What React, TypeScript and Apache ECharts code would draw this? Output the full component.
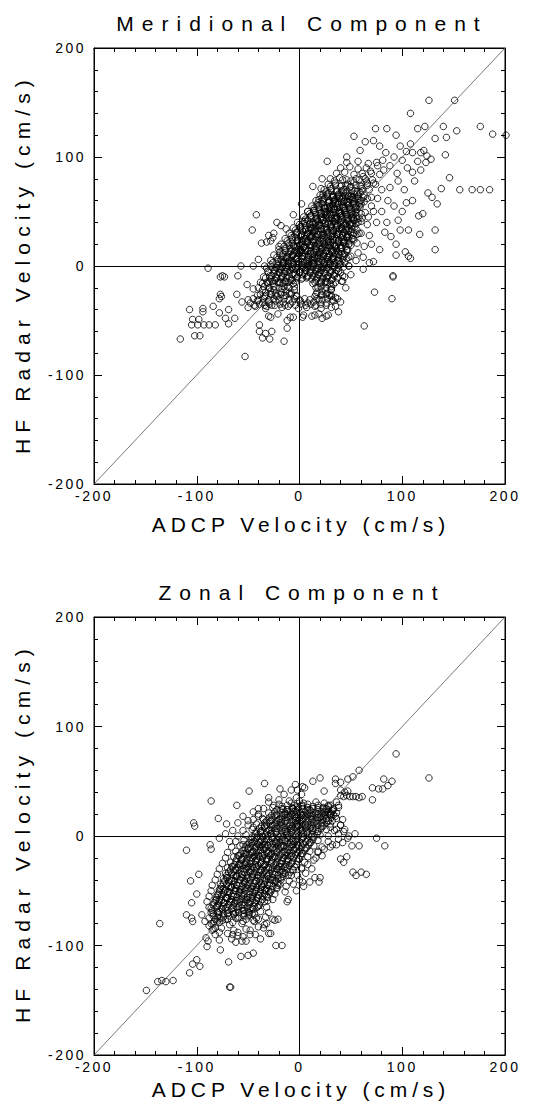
import React, { useEffect, useRef } from "react";
import * as echarts from "echarts";

const axisMin = -200;
const axisMax = 200;
const axisStep = 100;

const titles = ["Meridional Component", "Zonal Component"];
const xName = "ADCP Velocity (cm/s)";
const yName = "HF Radar Velocity (cm/s)";

// Meridional component: [ADCP, HF radar] (cm/s)
const meridionalCore: number[][] = [
  [-30,-46],[-21,-44],[-9,-47],[4,-45],[12,-46],[19,-44],[26,-46],
  [-50,-38],[-43,-37],[-33,-39],[-27,-36],[-17,-38],[-11,-37],[-1,-39],[7,-38],[15,-37],[21,-39],[31,-38],
  [-56,-33],[-48,-34],[-41,-32],[-36,-34],[-30,-33],[-23,-32],[-16,-34],[-7,-33],[1,-32],[8,-34],[14,-33],[19,-31],[26,-34],[33,-32],[40,-33],
  [-41,-27],[-34,-28],[-27,-26],[-22,-28],[-15,-27],[-10,-25],[-3,-28],[15,-28],[22,-26],[29,-27],[35,-29],
  [-45,-21],[-36,-22],[-29,-20],[-25,-22],[-17,-21],[-12,-19],[-5,-22],[18,-20],[25,-22],[31,-21],
  [-38,-15],[-31,-16],[-26,-14],[-19,-16],[-14,-15],[-7,-13],[13,-16],[21,-14],[27,-15],[33,-17],[41,-14],
  [-35,-10],[-29,-9],[-22,-11],[-17,-9],[-10,-10],[-4,-8],[3,-11],[8,-9],[15,-10],[19,-8],[26,-11],[34,-9],[44,-10],
  [-31,-5],[-24,-4],[-19,-6],[-12,-5],[-6,-3],[0,-6],[6,-4],[11,-5],[18,-3],[24,-6],[30,-4],[38,-5],
  [-34,0],[-28,1],[-23,-1],[-16,0],[-11,2],[-4,-1],[2,1],[8,0],[13,2],[21,-1],[26,1],[32,0],[40,2],[48,0],
  [-28,5],[-21,6],[-17,4],[-10,5],[-3,7],[2,4],[9,6],[14,5],[20,7],[27,4],[31,6],[38,5],[46,7],
  [-25,10],[-19,11],[-12,9],[-7,10],[0,12],[5,9],[11,11],[18,10],[23,12],[29,9],[35,11],[42,10],[50,9],
  [-20,15],[-13,16],[-8,14],[-1,15],[4,17],[11,14],[16,16],[22,15],[29,17],[33,14],[40,16],[47,15],
  [-18,20],[-11,21],[-6,19],[1,20],[6,22],[12,19],[19,21],[24,20],[30,22],[36,19],[43,21],[48,20],[56,21],
  [-14,25],[-7,26],[-2,24],[5,25],[10,27],[16,24],[23,26],[28,25],[34,27],[41,24],[46,26],[52,25],
  [-10,30],[-3,31],[2,29],[9,30],[14,32],[20,29],[27,31],[32,30],[38,32],[45,29],[50,31],[58,30],
  [-6,35],[1,36],[6,34],[13,35],[18,37],[24,34],[31,36],[36,35],[43,37],[48,34],[54,36],
  [-2,40],[5,41],[10,39],[16,40],[23,42],[28,39],[34,41],[40,40],[47,42],[52,39],[60,41],
  [4,45],[11,46],[16,44],[22,45],[29,47],[34,44],[40,46],[47,45],[52,47],[58,44],
  [8,50],[14,51],[21,49],[26,50],[33,52],[38,49],[44,51],[51,50],[56,52],[64,49],
  [12,55],[19,56],[24,54],[30,55],[37,57],[42,54],[48,56],[55,55],[60,57],
  [16,60],[23,61],[28,59],[34,60],[41,62],[46,59],[52,61],[59,60],[66,62],
  [20,65],[27,66],[32,64],[38,65],[45,67],[50,64],[56,66],[63,65],[70,63],
  [24,70],[31,71],[36,69],[43,70],[49,72],[54,69],[61,71],[68,70],
  [28,75],[35,76],[41,74],[47,75],[53,77],[59,74],[66,76],[74,75],
  [30,80],[39,81],[46,79],[55,80],[62,82],[71,79],
  [36,85],[44,86],[53,84],[61,85],[69,87],[78,84],
  [40,90],[49,91],[57,89],[65,90],[76,92],
  [46,95],[57,96],[67,94],[81,97],
  [-20,-2],[-13,-1],[-7,-3],[4,-2],[11,-1],[16,-3],[23,-2],
  [-15,3],[-8,2],[-1,4],[6,3],[12,2],[18,4],[24,3],[30,2],
  [-10,8],[-3,7],[3,9],[9,8],[15,7],[21,9],[27,8],[33,7],
  [-5,13],[2,12],[8,14],[14,13],[20,12],[26,14],[32,13],[38,12],
  [-2,18],[4,17],[10,19],[16,18],[22,17],[28,19],[34,18],[40,17],
  [2,23],[8,22],[14,24],[20,23],[26,22],[32,24],[38,23],[44,22],
  [5,28],[12,27],[18,29],[24,28],[30,27],[36,29],[42,28],[48,27],
  [9,33],[15,32],[21,34],[27,33],[33,32],[39,34],[45,33],
  [13,38],[19,37],[25,39],[31,38],[37,37],[43,39],[49,38],
  [17,43],[23,42],[29,44],[35,43],[41,42],[47,44],[53,43],
  [21,48],[27,47],[33,49],[39,48],[45,47],[51,49],
  [25,53],[31,52],[37,54],[43,53],[49,52],[55,54],
  [29,58],[35,57],[41,59],[47,58],[53,57],
  [33,63],[39,62],[45,64],[51,63],[57,62],
];

const meridionalDense: number[][] = [
  [-33,-24],[-28,-23],[-23,-25],[-18,-24],[-13,-23],[-8,-25],[17,-24],[22,-23],[27,-25],
  [-29,-14],[-24,-13],[-19,-15],[-14,-14],[-9,-13],[-4,-15],[16,-13],[21,-15],[26,-14],[31,-13],
  [-27,-9],[-22,-8],[-17,-10],[-12,-9],[-7,-8],[-2,-10],[3,-8],[8,-10],[13,-9],[18,-8],[23,-10],[28,-9],[33,-8],
  [-24,-4],[-19,-3],[-14,-5],[-9,-4],[-4,-3],[1,-5],[6,-4],[11,-3],[16,-5],[21,-4],[26,-3],[31,-5],[36,-4],
  [-21,1],[-16,2],[-11,0],[-6,1],[-1,2],[4,0],[9,1],[14,2],[19,0],[24,1],[29,2],[34,0],[39,1],
  [-18,6],[-13,7],[-8,5],[-3,6],[2,7],[7,5],[12,6],[17,7],[22,5],[27,6],[32,7],[37,5],[42,6],
  [-16,11],[-11,12],[-6,10],[-1,11],[4,12],[9,10],[14,11],[19,12],[24,10],[29,11],[34,12],[39,10],[44,11],
  [-9,16],[-4,17],[1,15],[6,16],[11,17],[16,15],[21,16],[26,17],[31,15],[36,16],[41,17],[46,15],
  [-7,21],[-2,22],[3,20],[8,21],[13,22],[18,20],[23,21],[28,22],[33,20],[38,21],[43,22],[48,20],
  [-4,26],[1,27],[6,25],[11,26],[16,27],[21,25],[26,26],[31,27],[36,25],[41,26],[46,27],[51,25],
  [-2,31],[3,32],[8,30],[13,31],[18,32],[23,30],[28,31],[33,32],[38,30],[43,31],[48,32],[53,30],
  [1,36],[6,37],[11,35],[16,36],[21,37],[26,35],[31,36],[36,37],[41,35],[46,36],[51,37],
  [3,41],[8,42],[13,40],[18,41],[23,42],[28,40],[33,41],[38,42],[43,40],[48,41],[53,42],[57,40],
  [11,46],[16,47],[21,45],[26,46],[31,47],[36,45],[41,46],[46,47],[51,45],[55,46],
  [14,51],[19,52],[24,50],[29,51],[34,52],[39,50],[44,51],[49,52],[54,50],
  [17,56],[22,57],[27,55],[32,56],[37,57],[42,55],[47,56],[52,57],[58,55],
  [19,61],[24,62],[29,60],[34,61],[39,62],[44,60],[49,61],[54,62],[60,60],
  [23,66],[28,67],[33,65],[38,66],[43,67],[48,65],[53,66],[59,67],
];

const meridionalFill: number[][] = [
  [-44,-36],[-39,-35],[-34,-36],[-29,-35],[-24,-36],[-19,-35],[-14,-36],[-9,-35],[-4,-36],[1,-35],[6,-36],[11,-35],[16,-36],[21,-35],[26,-36],
  [-50,-31],[-45,-30],[-40,-31],[-35,-30],[-30,-31],[-25,-30],[-20,-31],[-15,-30],[-10,-31],[-5,-30],[0,-31],[5,-30],[10,-31],[17,-30],[22,-31],[27,-30],[32,-31],[37,-30],
  [-38,-26],[-33,-27],[-28,-26],[-23,-27],[-18,-26],[-13,-27],[-8,-26],[-3,-27],[16,-26],[21,-27],[26,-26],[31,-27],
  [-40,-20],[-35,-19],[-30,-20],[-25,-19],[-20,-20],[-15,-19],[-10,-20],[-5,-19],[16,-20],[21,-19],[26,-20],[31,-19],
  [-36,-16],[-31,-15],[-26,-16],[-21,-15],[-16,-16],[-11,-15],[-6,-16],[15,-15],[20,-16],[25,-15],[30,-16],[35,-15],
  [-33,-11],[-28,-12],[-23,-11],[-18,-12],[-13,-11],[-8,-12],[-3,-11],[2,-12],[7,-11],[12,-12],[17,-11],[22,-12],[27,-11],[32,-12],[37,-11],
  [-30,-6],[-25,-7],[-20,-6],[-15,-7],[-10,-6],[-5,-7],[0,-6],[5,-7],[10,-6],[15,-7],[20,-6],[25,-7],[30,-6],[35,-7],[40,-6],
  [-32,-2],[-27,-1],[-22,-2],[-17,-1],[-12,-2],[-7,-1],[-2,-2],[3,-1],[8,-2],[13,-1],[18,-2],[23,-1],[28,-2],[33,-1],[38,-2],[43,-1],
  [-26,3],[-21,4],[-16,3],[-11,4],[-6,3],[-1,4],[4,3],[9,4],[14,3],[19,4],[24,3],[29,4],[34,3],[39,4],[44,3],
  [-22,8],[-17,9],[-12,8],[-7,9],[-2,8],[3,9],[8,8],[13,9],[18,8],[23,9],[28,8],[33,9],[38,8],[43,9],[48,8],
  [-19,13],[-14,14],[-9,13],[-4,14],[1,13],[6,14],[11,13],[16,14],[21,13],[26,14],[31,13],[36,14],[41,13],[46,14],
  [-15,18],[-10,19],[-5,18],[0,19],[5,18],[10,19],[15,18],[20,19],[25,18],[30,19],[35,18],[40,19],[45,18],[50,19],
  [-12,23],[-7,24],[-2,23],[3,24],[8,23],[13,24],[18,23],[23,24],[28,23],[33,24],[38,23],[43,24],[48,23],[53,24],
  [-8,28],[-3,29],[2,28],[7,29],[12,28],[17,29],[22,28],[27,29],[32,28],[37,29],[42,28],[47,29],[52,28],[56,29],
  [-4,33],[1,34],[6,33],[11,34],[16,33],[21,34],[26,33],[31,34],[36,33],[41,34],[46,33],[51,34],[56,33],
  [0,38],[5,39],[10,38],[15,39],[20,38],[25,39],[30,38],[35,39],[40,38],[45,39],[50,38],[55,39],
  [6,43],[11,44],[16,43],[21,44],[26,43],[31,44],[36,43],[41,44],[46,43],[51,44],[56,43],[61,44],
  [10,48],[15,49],[20,48],[25,49],[30,48],[35,49],[40,48],[45,49],[50,48],[55,49],[60,48],
  [14,53],[19,54],[24,53],[29,54],[34,53],[39,54],[44,53],[49,54],[54,53],[59,54],
  [18,58],[23,59],[28,58],[33,59],[38,58],[43,59],[48,58],[53,59],[58,58],[63,59],
  [22,63],[27,64],[32,63],[37,64],[42,63],[47,64],[52,63],[57,64],[62,63],
  [26,68],[31,69],[36,68],[41,69],[46,68],[51,69],[56,68],[61,69],
  [30,73],[35,74],[40,73],[45,74],[50,73],[55,74],[60,73],[66,74],
  [34,78],[42,79],[50,78],[58,79],[65,78],
];

const meridionalScatter: number[][] = [
  [126,152],[151,152],[108,140],[201,120],[188,121],[176,128],[53,119],[74,126],[85,126],[140,128],
  [132,117],[143,118],[153,124],[115,126],[122,128],[94,120],[72,115],[64,114],[142,102],[121,106],
  [124,101],[118,104],[110,104],[104,105],[27,96],[46,100],[59,106],[146,81],[138,71],[156,70],
  [168,70],[176,70],[185,70],[125,67],[129,63],[134,57],[132,33],[132,15],[117,29],[120,48],
  [116,46],[104,58],[106,33],[98,33],[103,13],[106,9],[108,7],[94,20],[94,10],[89,27],
  [91,-10],[72,4],[62,8],[83,31],[-42,47],[-46,33],[-6,47],[2,57],[8,50],[13,73],
  [21,71],[22,80],[-37,21],[-32,22],[-28,23],[-13,34],[-20,18],[-40,6],[-57,0],[-45,0],
  [-89,-2],[-77,-10],[-75,-9],[-73,-10],[-60,-9],[-51,-17],[-61,-26],[-77,-26],[-76,-28],[-78,-30],
  [-107,-40],[-94,-39],[-94,-42],[-84,-37],[-78,-43],[-69,-40],[-63,-48],[-69,-53],[-72,-48],[-104,-49],
  [-98,-49],[-105,-54],[-99,-54],[-93,-54],[-88,-54],[-82,-54],[-102,-64],[-97,-64],[-116,-67],[-53,-83],
  [-39,-54],[-39,-60],[-36,-66],[-33,-62],[-29,-67],[-27,-60],[-15,-69],[-12,-50],[-12,-57],[-6,-47],
  [3,-47],[-28,-47],[-32,-37],[35,-37],[31,-22],[31,-28],[73,-24],[90,-30],[91,-9],[63,-55],
  [42,-9],[42,-14],[48,0],[68,3],[75,95],[82,88],[88,92],[95,85],[100,97],[105,90],
  [110,86],[96,78],[88,72],[102,70],[112,78],[118,88],[92,100],[84,104],[78,110],[98,110],
  [108,112],[115,96],[123,95],[128,98],[86,60],[92,55],[100,50],[96,42],[110,60],[80,50],
  [75,40],[70,20],[78,15],[85,40],[67,45],[60,30],[68,28],[63,18],[57,12],[55,5],
  [62,-3],[50,-8],[45,-20],[38,-42],[28,-45],[22,-48],[15,-45],[-25,30],[-30,28],[-18,37],
  [-22,40],[-26,26],[70,85],[64,80],[72,76],[80,70],[76,62],[70,55],[66,38],[72,50],
];

// Zonal component: [ADCP, HF radar] (cm/s)
const zonalCore: number[][] = [
  [-30,31],[-20,29],[-8,30],[0,32],[8,29],[16,31],[24,30],[30,28],[36,31],
  [-35,25],[-26,26],[-16,24],[-6,25],[2,27],[10,24],[18,26],[26,25],[32,23],[38,26],
  [-40,20],[-30,21],[-22,19],[-14,20],[-6,22],[2,19],[10,21],[18,20],[25,22],[30,19],[36,21],
  [-45,15],[-36,16],[-28,14],[-20,15],[-12,17],[-4,14],[4,16],[12,15],[20,17],[28,14],[36,16],[42,15],
  [-50,10],[-42,11],[-34,9],[-26,10],[-18,12],[-10,9],[-2,11],[6,10],[14,12],[22,9],[30,11],[40,10],
  [-55,5],[-46,6],[-38,4],[-30,5],[-22,7],[-14,4],[-6,6],[2,5],[10,7],[18,4],[26,6],[34,5],[44,6],
  [-60,0],[-52,1],[-44,-1],[-36,0],[-28,2],[-20,-1],[-12,1],[-4,0],[4,2],[12,-1],[20,1],[28,0],[38,2],[48,0],
  [-62,-5],[-54,-4],[-46,-6],[-38,-5],[-30,-3],[-22,-6],[-14,-4],[-6,-5],[2,-3],[10,-6],[18,-4],[28,-5],[38,-3],
  [-66,-10],[-58,-9],[-50,-11],[-42,-10],[-34,-8],[-26,-11],[-18,-9],[-10,-10],[-2,-8],[6,-11],[14,-9],[22,-10],[32,-8],
  [-70,-15],[-62,-14],[-54,-16],[-46,-15],[-38,-13],[-30,-16],[-22,-14],[-14,-15],[-6,-13],[2,-16],[10,-14],[18,-15],
  [-72,-20],[-64,-19],[-56,-21],[-48,-20],[-40,-18],[-32,-21],[-24,-19],[-16,-20],[-8,-18],[0,-21],[8,-19],[16,-20],
  [-75,-25],[-67,-24],[-59,-26],[-51,-25],[-43,-23],[-35,-26],[-27,-24],[-19,-25],[-11,-23],[-3,-26],[5,-24],
  [-78,-30],[-70,-29],[-62,-31],[-54,-30],[-46,-28],[-38,-31],[-30,-29],[-22,-30],[-14,-28],[-6,-31],[2,-29],
  [-80,-35],[-72,-34],[-64,-36],[-56,-35],[-48,-33],[-40,-36],[-32,-34],[-24,-35],[-16,-33],[-8,-36],
  [-82,-40],[-74,-39],[-66,-41],[-58,-40],[-50,-38],[-42,-41],[-34,-39],[-26,-40],[-18,-38],[-10,-41],
  [-85,-45],[-77,-44],[-69,-46],[-61,-45],[-53,-43],[-45,-46],[-37,-44],[-29,-45],[-21,-43],[-13,-46],
  [-86,-50],[-78,-49],[-70,-51],[-62,-50],[-54,-48],[-46,-51],[-38,-49],[-30,-50],[-22,-48],[-14,-51],
  [-88,-55],[-80,-54],[-72,-56],[-64,-55],[-56,-53],[-48,-56],[-40,-54],[-32,-55],[-24,-53],
  [-90,-60],[-82,-59],[-74,-61],[-66,-60],[-58,-58],[-50,-61],[-42,-59],[-34,-60],[-26,-58],
  [-88,-65],[-80,-64],[-72,-66],[-64,-65],[-56,-63],[-48,-66],[-40,-64],[-32,-65],
  [-86,-70],[-78,-69],[-70,-71],[-62,-70],[-54,-68],[-46,-71],[-38,-69],[-30,-70],
  [-88,-75],[-80,-74],[-72,-76],[-60,-75],[-50,-73],[-40,-76],[-33,-74],
  [-86,-80],[-78,-79],[-68,-81],[-56,-80],[-44,-78],[-34,-81],
  [-84,-85],[-76,-84],[-64,-86],[-52,-85],[-40,-83],
  [-82,-90],[-70,-89],[-60,-91],[-48,-90],
  [-78,-95],[-66,-94],[-56,-96],
  [-55,-8],[-47,-7],[-39,-9],[-31,-8],[-23,-7],[-15,-9],[-7,-8],
  [-60,-18],[-52,-17],[-44,-19],[-36,-18],[-28,-17],[-20,-19],[-12,-18],
  [-66,-28],[-58,-27],[-50,-29],[-42,-28],[-34,-27],[-26,-29],[-18,-28],
  [-70,-38],[-62,-37],[-54,-39],[-46,-38],[-38,-37],[-30,-39],
  [-74,-48],[-66,-47],[-58,-49],[-50,-48],[-42,-47],[-34,-49],
  [-78,-58],[-70,-57],[-62,-59],[-54,-58],[-46,-57],
  [-15,8],[-8,7],[-1,9],[6,8],[13,7],
  [-10,18],[-3,17],[4,19],[11,18],[18,17],[25,19],
  [-3,35],[2,38],[-1,26],[4,30],[-5,18],[0,14],
];

const zonalDense: number[][] = [
  [-17,27],[-12,28],[-7,26],[-2,27],[3,28],[8,26],[13,27],[18,28],[23,26],[28,27],
  [-24,22],[-19,23],[-14,21],[-9,22],[-4,23],[1,21],[6,22],[11,23],[16,21],[21,22],[26,23],[31,21],
  [-29,17],[-24,18],[-19,16],[-14,17],[-9,18],[-4,16],[1,17],[6,18],[11,16],[16,17],[21,18],[26,16],[31,17],
  [-34,12],[-29,13],[-24,11],[-19,12],[-14,13],[-9,11],[-4,12],[1,13],[6,11],[11,12],[16,13],[21,11],[26,12],
  [-39,7],[-34,8],[-29,6],[-24,7],[-19,8],[-14,6],[-9,7],[-4,8],[1,6],[6,7],[11,8],[16,6],[21,7],
  [-43,2],[-38,3],[-33,1],[-28,2],[-23,3],[-18,1],[-13,2],[-8,3],[-3,1],[2,2],[7,3],[12,1],[17,2],
  [-47,-3],[-42,-2],[-37,-4],[-32,-3],[-27,-2],[-22,-4],[-17,-3],[-12,-2],[-7,-4],[-2,-3],[3,-2],[8,-4],[13,-3],
  [-51,-8],[-46,-9],[-41,-7],[-36,-8],[-31,-9],[-26,-7],[-21,-8],[-16,-9],[-11,-7],[-6,-8],[-1,-9],[4,-7],[9,-8],
  [-55,-13],[-50,-12],[-45,-14],[-40,-13],[-35,-12],[-30,-14],[-25,-13],[-20,-12],[-15,-14],[-10,-13],[-5,-12],[0,-14],[5,-13],
  [-59,-18],[-54,-19],[-49,-17],[-44,-18],[-39,-19],[-34,-17],[-29,-18],[-24,-19],[-19,-17],[-14,-18],[-9,-19],[-4,-17],[1,-18],
  [-62,-23],[-57,-22],[-52,-24],[-47,-23],[-42,-22],[-37,-24],[-32,-23],[-27,-22],[-22,-24],[-17,-23],[-12,-22],[-7,-24],[-2,-23],
  [-65,-28],[-60,-29],[-55,-27],[-50,-28],[-45,-29],[-40,-27],[-35,-28],[-30,-29],[-25,-27],[-20,-28],[-15,-29],[-10,-27],[-5,-28],
  [-69,-33],[-64,-32],[-59,-34],[-54,-33],[-49,-32],[-44,-34],[-39,-33],[-34,-32],[-29,-34],[-24,-33],[-19,-32],[-14,-34],[-9,-33],
  [-71,-38],[-66,-39],[-61,-37],[-56,-38],[-51,-39],[-46,-37],[-41,-38],[-36,-39],[-31,-37],[-26,-38],[-21,-39],[-16,-37],
  [-74,-43],[-69,-42],[-64,-44],[-59,-43],[-54,-42],[-49,-44],[-44,-43],[-39,-42],[-34,-44],[-29,-43],[-24,-42],[-19,-44],
  [-77,-48],[-72,-49],[-67,-47],[-62,-48],[-57,-49],[-52,-47],[-47,-48],[-42,-49],[-37,-47],[-32,-48],[-27,-49],[-22,-47],
  [-79,-53],[-74,-52],[-69,-54],[-64,-53],[-59,-52],[-54,-54],[-49,-53],[-44,-52],[-39,-54],[-34,-53],[-29,-52],
  [-81,-58],[-76,-59],[-71,-57],[-66,-58],[-61,-59],[-56,-57],[-51,-58],[-46,-59],[-41,-57],[-36,-58],[-31,-59],
  [-84,-63],[-79,-62],[-74,-64],[-69,-63],[-64,-62],[-59,-64],[-54,-63],[-49,-62],[-44,-64],[-39,-63],
  [-85,-68],[-80,-69],[-75,-67],[-70,-68],[-65,-69],[-60,-67],[-55,-68],[-50,-69],[-45,-67],
  [-84,-73],[-79,-72],[-74,-74],[-69,-73],[-64,-72],[-59,-74],[-54,-73],[-49,-72],
  [-83,-78],[-75,-77],[-65,-79],[-55,-78],[-45,-77],
];

const zonalFill: number[][] = [
  [-22,24],[-17,25],[-12,24],[-7,25],[-2,24],[3,25],[8,24],[13,25],[18,24],[23,25],[28,24],[33,25],
  [-27,19],[-22,20],[-17,19],[-12,20],[-7,19],[-2,20],[3,19],[8,20],[13,19],[18,20],[23,19],[28,20],[33,19],
  [-32,14],[-27,15],[-22,14],[-17,15],[-12,14],[-7,15],[-2,14],[3,15],[8,14],[13,15],[18,14],[23,15],[28,14],
  [-37,9],[-32,10],[-27,9],[-22,10],[-17,9],[-12,10],[-7,9],[-2,10],[3,9],[8,10],[13,9],[18,10],[23,9],
  [-42,4],[-37,5],[-32,4],[-27,5],[-22,4],[-17,5],[-12,4],[-7,5],[-2,4],[3,5],[8,4],[13,5],[18,4],
  [-46,-1],[-41,0],[-36,-1],[-31,0],[-26,-1],[-21,0],[-16,-1],[-11,0],[-6,-1],[-1,0],[4,-1],[9,0],[14,-1],
  [-49,-6],[-44,-5],[-39,-6],[-34,-5],[-29,-6],[-24,-5],[-19,-6],[-14,-5],[-9,-6],[-4,-5],[1,-6],[6,-5],[11,-6],
  [-53,-11],[-48,-10],[-43,-11],[-38,-10],[-33,-11],[-28,-10],[-23,-11],[-18,-10],[-13,-11],[-8,-10],[-3,-11],[2,-10],[7,-11],
  [-57,-16],[-52,-15],[-47,-16],[-42,-15],[-37,-16],[-32,-15],[-27,-16],[-22,-15],[-17,-16],[-12,-15],[-7,-16],[-2,-15],[3,-16],
  [-61,-21],[-56,-20],[-51,-21],[-46,-20],[-41,-21],[-36,-20],[-31,-21],[-26,-20],[-21,-21],[-16,-20],[-11,-21],[-6,-20],[-1,-21],
  [-63,-26],[-58,-25],[-53,-26],[-48,-25],[-43,-26],[-38,-25],[-33,-26],[-28,-25],[-23,-26],[-18,-25],[-13,-26],[-8,-25],
  [-67,-31],[-62,-30],[-57,-31],[-52,-30],[-47,-31],[-42,-30],[-37,-31],[-32,-30],[-27,-31],[-22,-30],[-17,-31],[-12,-30],[-7,-31],
  [-71,-36],[-66,-35],[-61,-36],[-56,-35],[-51,-36],[-46,-35],[-41,-36],[-36,-35],[-31,-36],[-26,-35],[-21,-36],[-16,-35],[-11,-36],
  [-73,-41],[-68,-40],[-63,-41],[-58,-40],[-53,-41],[-48,-40],[-43,-41],[-38,-40],[-33,-41],[-28,-40],[-23,-41],[-18,-40],
  [-76,-46],[-71,-45],[-66,-46],[-61,-45],[-56,-46],[-51,-45],[-46,-46],[-41,-45],[-36,-46],[-31,-45],[-26,-46],[-21,-45],
  [-78,-51],[-73,-50],[-68,-51],[-63,-50],[-58,-51],[-53,-50],[-48,-51],[-43,-50],[-38,-51],[-33,-50],[-28,-51],
  [-81,-56],[-76,-55],[-71,-56],[-66,-55],[-61,-56],[-56,-55],[-51,-56],[-46,-55],[-41,-56],[-36,-55],[-31,-56],
  [-83,-61],[-78,-60],[-73,-61],[-68,-60],[-63,-61],[-58,-60],[-53,-61],[-48,-60],[-43,-61],[-38,-60],
  [-86,-66],[-81,-65],[-76,-66],[-71,-65],[-66,-66],[-61,-65],[-56,-66],[-51,-65],[-46,-66],[-41,-65],
  [-84,-71],[-79,-70],[-74,-71],[-69,-70],[-64,-71],[-59,-70],[-54,-71],[-49,-70],[-44,-71],
  [-82,-76],[-77,-75],[-70,-76],[-62,-75],[-52,-76],[-42,-75],
];

const zonalScatter: number[][] = [
  [94,75],[126,53],[58,60],[52,54],[47,52],[82,52],[90,50],[86,46],[77,43],[81,43],
  [71,44],[71,33],[35,52],[35,48],[40,49],[20,53],[24,41],[13,50],[3,45],[5,44],
  [-4,47],[-8,42],[-2,42],[-19,43],[-34,48],[-49,41],[-61,28],[-86,32],[-30,35],[-45,22],
  [-40,25],[-79,16],[-71,11],[-102,9],[-60,12],[40,37],[43,36],[46,37],[49,36],[52,36],
  [55,36],[58,35],[61,36],[44,40],[40,42],[47,41],[83,-9],[75,-2],[54,2],[51,-9],
  [58,-9],[46,-19],[40,-21],[43,-24],[52,-33],[60,-33],[65,-35],[55,-36],[20,-38],[19,-42],
  [3,-42],[-3,-50],[-11,-58],[-12,-60],[-21,-76],[-28,-89],[-30,-89],[-23,-100],[-17,-100],[-45,-107],
  [-50,-109],[-57,-110],[-69,-115],[-68,-138],[-67,-138],[-77,-104],[-97,-119],[-100,-113],[-104,-117],[-107,-125],
  [-123,-132],[-130,-133],[-134,-132],[-138,-133],[-149,-141],[-136,-80],[-110,-13],[-106,-41],[-105,-61],[-110,-72],
  [-105,-75],[-104,-78],[-100,-53],[-98,-35],[-87,-8],[-86,-12],[-91,-93],[-89,-96],[-90,-101],[-103,12],
  [-95,-72],[-92,-78],[-88,-82],[-84,-80],[-82,-84],[-80,-78],[-85,-86],[-78,-88],[-65,-90],[-60,-88],
  [-55,-92],[-48,-86],[-43,-90],[-38,-94],[-62,-97],[-52,-96],[-35,-84],[-32,-80],[-26,-76],[-24,-77],
  [22,12],[26,16],[30,20],[33,24],[28,28],[24,22],[32,14],[35,18],[38,28],[30,8],
  [36,6],[40,10],[43,4],[47,-2],[42,-6],[36,-8],[30,-10],[24,-12],[18,-14],[22,-18],
  [14,-22],[8,-26],[2,-30],[-2,-36],[6,-34],[12,-30],[15,-38],[10,-42],[4,-46],[0,-40],
  [-6,-44],[-55,18],[-50,14],[-45,8],[-40,18],[-35,15],[-25,28],[-20,33],[-15,38],[-10,32],
  [-5,28],[-12,24],[-65,5],[-72,2],[-78,-2],[-68,-5],
];

const identityLine: number[][] = [[-200, -200], [200, 200]];

const FONT = "Liberation Sans";

function makeAxis(gridIndex: number, position: string, labels: boolean) {
  const isX = position === "bottom" || position === "top";
  return {
    type: "value",
    gridIndex,
    position,
    min: axisMin,
    max: axisMax,
    interval: axisStep,
    axisLine: { show: true, onZero: false, lineStyle: { color: "#000", width: 1 } },
    axisTick: { show: true, inside: true, length: 8, lineStyle: { color: "#000", width: 1 } },
    minorTick: { show: true, splitNumber: 5, length: 4, lineStyle: { color: "#000", width: 1 } },
    splitLine: { show: false },
    minorSplitLine: { show: false },
    axisLabel: {
      show: labels,
      color: "#000",
      fontSize: 14,
      fontFamily: FONT,
      margin: isX ? 5 : 8,
      padding: isX ? 0 : [0, 0, 6, 0],
    },
  };
}

function makeSeries(idx: number, data: number[][]) {
  return [
    {
      type: "line",
      xAxisIndex: idx * 2,
      yAxisIndex: idx * 2,
      data: identityLine,
      symbol: "none",
      showSymbol: false,
      silent: true,
      lineStyle: { color: "#555", width: 0.8 },
      markLine: {
        silent: true,
        symbol: ["none", "none"],
        label: { show: false },
        lineStyle: { color: "#000", width: 1, type: "solid" },
        data: [{ xAxis: 0 }, { yAxis: 0 }],
      },
    },
    {
      type: "scatter",
      xAxisIndex: idx * 2,
      yAxisIndex: idx * 2,
      data,
      symbol: "circle",
      symbolSize: 6.5,
      clip: false,
      silent: true,
      itemStyle: { color: "rgba(0,0,0,0)", borderColor: "#000", borderWidth: 1 },
    },
  ];
}

function textEl(text: string, x: number, y: number, rotation = 0) {
  return {
    type: "text",
    x,
    y,
    rotation,
    silent: true,
    style: {
      text,
      fill: "#000",
      fontSize: 21,
      fontFamily: FONT,
      textAlign: "center",
      textVerticalAlign: "middle",
      align: "center",
      verticalAlign: "middle",
    },
  };
}

export default function App() {
  const ref = useRef<HTMLDivElement>(null);
  useEffect(() => {
    const el = ref.current;
    if (!el) return;
    const chart = echarts.init(el, null, { renderer: "svg", width: 557, height: 1105 });
    const option: any = {
      animation: false,
      backgroundColor: "#fff",
      grid: [
        { left: 94, top: 48, width: 411, height: 436, show: true, borderColor: "#000", borderWidth: 1, backgroundColor: "transparent" },
        { left: 94, top: 617, width: 411, height: 438, show: true, borderColor: "#000", borderWidth: 1, backgroundColor: "transparent" },
      ],
      xAxis: [
        makeAxis(0, "bottom", true),
        makeAxis(0, "top", false),
        makeAxis(1, "bottom", true),
        makeAxis(1, "top", false),
      ],
      yAxis: [
        makeAxis(0, "left", true),
        makeAxis(0, "right", false),
        makeAxis(1, "left", true),
        makeAxis(1, "right", false),
      ],
      series: [
        ...makeSeries(0, meridionalCore.concat(meridionalDense, meridionalFill, meridionalScatter)),
        ...makeSeries(1, zonalCore.concat(zonalDense, zonalFill, zonalScatter)),
      ],
      graphic: [
        textEl(titles[0], 302, 23),
        textEl(titles[1], 302, 592),
        textEl(xName, 301, 524),
        textEl(xName, 301, 1089),
        textEl(yName, 22, 264, Math.PI / 2),
        textEl(yName, 22, 833, Math.PI / 2),
      ],
    };
    chart.setOption(option);
    const applySpacing = () => {
      el.querySelectorAll("text").forEach((t) => {
        const s = (t.textContent || "").trim();
        let sp = 0;
        if (s === titles[0] || s === titles[1]) sp = 8;
        else if (s === xName) sp = 4.9;
        else if (s === yName) sp = 6.1;
        else if (/^-?\d+$/.test(s)) sp = 2.5;
        if (sp) t.setAttribute("letter-spacing", String(sp));
      });
    };
    applySpacing();
    chart.on("finished", applySpacing);
    const timer = setTimeout(applySpacing, 30);
    return () => {
      clearTimeout(timer);
      chart.dispose();
    };
  }, []);
  return (
    <div
      ref={ref}
      style={{ position: "absolute", left: 0, top: 0, width: 557, height: 1105, background: "#fff" }}
    />
  );
}
